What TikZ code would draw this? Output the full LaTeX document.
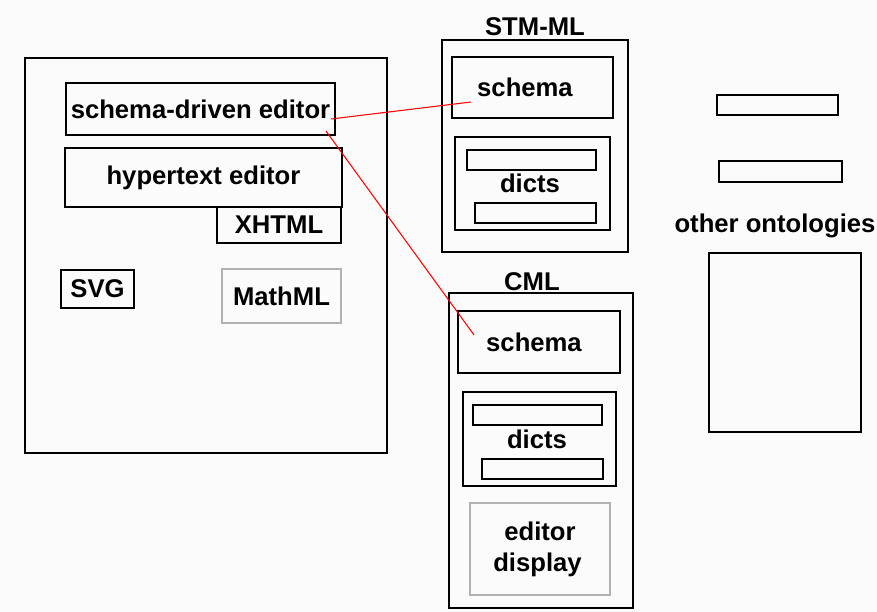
\documentclass[tikz,border=0pt]{standalone}
\usepackage{fontspec}
\setmainfont{Liberation Sans}
\usepackage{tikz}
\usetikzlibrary{positioning}

\begin{document}
\begin{tikzpicture}[x=0.02cm, y=-0.02cm,
    box/.style={rectangle, draw, line width=1.1pt, inner sep=0pt, align=center, font=\fontsize{14.6}{17.5}\selectfont\bfseries},
    thinbox/.style={box, draw=gray!60, line width=0.7pt},
    bar/.style={rectangle, draw, line width=1.1pt, inner sep=0pt, minimum height=0.4cm},
    title/.style={inner sep=0pt, font=\fontsize{14.6}{17.5}\selectfont\bfseries},
    link/.style={draw=red, line width=0.6pt}]

    \fill[gray!3] (0,0) rectangle (877,612);
    \useasboundingbox (0,0) rectangle (877,612);

    \node [box, minimum width=7.24cm, minimum height=7.9cm] (host) at (206,255.5) {};
    \node [box, minimum width=5.38cm, minimum height=1.04cm] (sde) at (200.5,109) {schema-driven editor};
    \node [box, minimum width=5.54cm, minimum height=1.18cm] (hte) at (203.5,177.5) {hypertext editor};
    \node [box, minimum width=2.48cm, minimum height=0.72cm] (xhtml) at (279,225) {XHTML};
    \node [box, minimum width=1.46cm, minimum height=0.76cm] (svg) at (97.5,289) {SVG};
    \node [thinbox, minimum width=2.38cm, minimum height=1.08cm] (mathml) at (281.5,296) {MathML};

    \node [box, minimum width=3.72cm, minimum height=4.24cm] (stm) at (535,146) {};
    \node [title, above=0.06cm of stm] (stmlabel) {STM-ML};
    \node [box, minimum width=3.22cm, minimum height=1.22cm] (stmschema) at (532.5,87.5) {schema\hspace*{0.3cm}};
    \node [box, minimum width=3.1cm, minimum height=1.86cm] (stmdicts) at (532.5,183.5) {\rule{0pt}{0.3cm}dicts\hspace*{0.1cm}};
    \node [bar, minimum width=2.58cm] (stmbar1) at (531.5,160) {};
    \node [bar, minimum width=2.42cm] (stmbar2) at (535.5,213) {};

    \node [box, minimum width=3.68cm, minimum height=6.3cm] (cml) at (541,450.5) {};
    \node [title, above=0.02cm of cml, xshift=-0.18cm] (cmllabel) {CML};
    \node [box, minimum width=3.24cm, minimum height=1.24cm] (cmlschema) at (539,342) {schema\hspace*{0.2cm}};
    \node [box, minimum width=3.06cm, minimum height=1.88cm] (cmldicts) at (539.5,439) {\rule{0pt}{0.2cm}dicts\hspace*{0.1cm}};
    \node [bar, minimum width=2.58cm] (cmlbar1) at (537.5,415) {};
    \node [bar, minimum width=2.42cm] (cmlbar2) at (542.5,469) {};
    \node [thinbox, minimum width=2.8cm, minimum height=1.84cm] (cmldisplay) at (540,549) {editor\\display\hspace*{0.1cm}};

    \node [bar, minimum width=2.42cm] (ontbar1) at (777.5,105) {};
    \node [bar, minimum width=2.46cm, minimum height=0.42cm] (ontbar2) at (780.5,171.5) {};
    \node [title] (ontlabel) at (775,226) {other ontologies};
    \node [box, line width=0.9pt, minimum width=3.04cm, minimum height=3.58cm] (ontbox) at (785,342.5) {};

    \draw [link] ([shift={(-5,10)}]sde.east) -- ([shift={(20,14.5)}]stmschema.west);
    \draw [link] ([shift={(-10,-5)}]sde.south east) -- ([shift={(17,-7)}]cmlschema.west);
\end{tikzpicture}
\end{document}
